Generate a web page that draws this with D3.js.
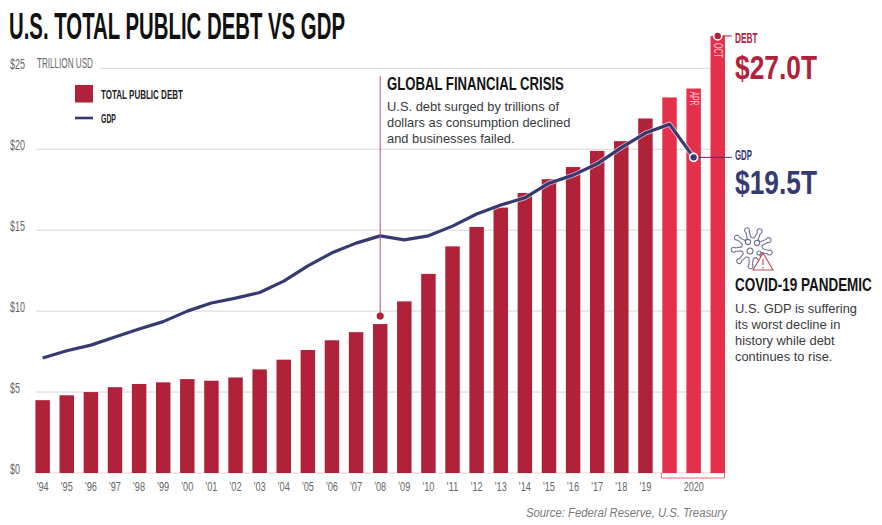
<!DOCTYPE html>
<html><head><meta charset="utf-8">
<script src="https://cdnjs.cloudflare.com/ajax/libs/d3/7.8.5/d3.min.js"></script>
<style>html,body{margin:0;padding:0;background:#fff}svg{display:block}</style>
</head><body><svg id="c" width="882" height="525"></svg>
<script>
const periods=["'94","'95","'96","'97","'98","'99","'00","'01","'02","'03","'04","'05","'06","'07","'08","'09","'10","'11","'12","'13","'14","'15","'16","'17","'18","'19","JAN","APR","OCT"];
const debtValues=[4.5,4.8,5.0,5.3,5.5,5.6,5.8,5.7,5.9,6.4,7.0,7.6,8.2,8.7,9.2,10.6,12.3,14.0,15.2,16.4,17.3,18.15,18.9,19.9,20.5,21.9,23.2,23.75,27.0];
const gdpValues=[7.1,7.55,7.9,8.4,8.9,9.35,10.0,10.5,10.8,11.15,11.85,12.8,13.6,14.2,14.65,14.4,14.65,15.25,16.0,16.55,17.0,17.9,18.4,19.1,20.1,21.0,21.55,19.5];
const yTicks=[0,5,10,15,20,25];
const recentPeriods=["JAN","APR","OCT"];
const RED="#b0213a",BRIGHT="#e5304b",NAVY="#353a72",HEAD="Liberation Sans",BODY="Liberation Sans";

const svg=d3.select("#c");
const x=d3.scaleBand().domain(periods).range([30.6,729.8]).paddingInner(0.4).paddingOuter(0.2);
const y=d3.scaleLinear().domain([0,25]).range([473,68.3]);
const cx=d=>x(d)+x.bandwidth()/2;

// squeeze a text horizontally to a wanted width (the reference uses a condensed face)
function squeeze(node,len){return len/node.getComputedTextLength();}
function cond(t,px,py,size,len,fill,weight,anchor){
  const s=svg.append("text").attr("font-family",HEAD).attr("font-size",size)
   .attr("font-weight",weight||"bold").attr("fill",fill).attr("text-anchor",anchor||"start").text(t);
  s.attr("transform",`translate(${px},${py}) scale(${squeeze(s.node(),len)},1)`);
  return s;
}
function body(lines,px,py,step){
  lines.forEach((l,i)=>svg.append("text").attr("x",px).attr("y",py+i*step).attr("font-family",BODY).attr("font-size",12.9).attr("fill","#3a3a3a").text(l));
}

// grid
svg.append("g").selectAll("line").data(yTicks).join("line")
 .attr("x1",d=>d===25?100:36).attr("x2",d=>d===25?712:726).attr("y1",d=>y(d)).attr("y2",d=>y(d))
 .attr("stroke",d=>d===0?"#e3d5d8":"#d6d6d6").attr("stroke-width",1);

// y axis
const ya=svg.append("g").attr("transform","translate(10,0)").call(d3.axisRight(y).tickValues(yTicks).tickSize(0).tickPadding(0).tickFormat(d=>"$"+d));
ya.select(".domain").remove();
ya.selectAll("text").attr("font-family",HEAD).attr("font-size",14).attr("fill","#666").attr("dy",null).attr("y",0)
 .attr("transform",function(d){return `scale(${squeeze(this,d<10?10:15)},1)`;});

// bars
svg.append("g").selectAll("rect").data(periods).join("rect")
 .attr("x",d=>x(d)).attr("width",x.bandwidth())
 .attr("y",(d,i)=>y(debtValues[i])).attr("height",(d,i)=>y(0)-y(debtValues[i]))
 .attr("fill",d=>recentPeriods.includes(d)?BRIGHT:RED);

// x axis
const xa=svg.append("g").attr("transform","translate(0,481)")
 .call(d3.axisBottom(x).tickValues(periods.slice(0,26)).tickSize(0).tickPadding(0));
xa.select(".domain").remove();
xa.selectAll("text").attr("font-family",HEAD).attr("font-size",12.5).attr("fill","#666").attr("dy",null).attr("y",10)
 .attr("transform",function(){return `scale(${squeeze(this,12)},1)`;});

// 2020 bracket
const bx0=x("JAN")-1,bx1=x("OCT")+x.bandwidth()-0.5;
svg.append("path").attr("d",`M${bx0},${y(0)}V${y(0)+5}H${bx1}V${y(0)}`).attr("fill","none").attr("stroke","#e8697c").attr("stroke-width",1);
cond("2020",cx("APR"),491,12.5,20,"#666","normal","middle");

// month labels in bars
[["APR",23.75],["OCT",27.0]].forEach(([p,v])=>{
  const top=y(v)+(p==="OCT"?7:3);
  const s=svg.append("text").attr("font-family",HEAD).attr("font-size",12).attr("fill","#f7c3cb").text(p);
  s.attr("transform",`translate(${cx(p)-4},${top}) rotate(90) scale(${squeeze(s.node(),p==="OCT"?15:14)},1)`);
});

// GDP line
const line=d3.line().x((d,i)=>cx(periods[i])).y(d=>y(d));
svg.append("path").datum(gdpValues).attr("d",line).attr("fill","none").attr("stroke","#fff").attr("stroke-width",5).attr("stroke-opacity",.6).attr("stroke-linejoin","round");
svg.append("path").datum(gdpValues).attr("d",line).attr("fill","none").attr("stroke",NAVY).attr("stroke-width",3.2).attr("stroke-linejoin","round");

// callouts
const gx=cx("APR"),gy=y(gdpValues[27]);
svg.append("line").attr("x1",gx).attr("x2",732).attr("y1",gy).attr("y2",gy).attr("stroke",NAVY).attr("stroke-width",1);
svg.append("circle").attr("cx",gx).attr("cy",gy).attr("r",4).attr("fill",NAVY).attr("stroke","#fff").attr("stroke-width",1.6);
const dx=cx("OCT"),dy=y(27.0);
svg.append("line").attr("x1",dx).attr("x2",732).attr("y1",dy).attr("y2",dy).attr("stroke",RED).attr("stroke-width",1);
svg.append("circle").attr("cx",dx).attr("cy",dy).attr("r",4).attr("fill",RED).attr("stroke","#fff").attr("stroke-width",1.6);

// crisis
const cxx=cx("'08");
svg.append("line").attr("x1",cxx).attr("x2",cxx).attr("y1",76).attr("y2",y(9.2)-8).attr("stroke","#b85266").attr("stroke-width",1);
svg.append("circle").attr("cx",cxx).attr("cy",y(9.2)-8).attr("r",3.6).attr("fill",RED);

// texts
cond("U.S. TOTAL PUBLIC DEBT VS GDP",9,39,37,336,"#111");
cond("TRILLION USD",37,68,14,56,"#666","normal");
cond("GLOBAL FINANCIAL CRISIS",387,90,18,177,"#141414");
body(["U.S. debt surged by trillions of","dollars as consumption declined","and businesses failed."],387,111,16);
cond("DEBT",735,43,15.5,22.5,RED);
cond("$27.0T",735,79,33.5,82,RED);
cond("GDP",735,159.5,15.5,17,NAVY);
cond("$19.5T",735,193.5,33.5,82,NAVY);
cond("COVID-19 PANDEMIC",735,291,18,137,"#141414");
body(["U.S. GDP is suffering","its worst decline in","history while debt","continues to rise."],735,313,16);
cond("Source: Federal Reserve, U.S. Treasury",526,517,12.4,201,"#7a7a7a","normal").attr("font-style","italic");

// legend
svg.append("rect").attr("x",75).attr("y",85).attr("width",18).attr("height",17.5).attr("fill",RED);
cond("TOTAL PUBLIC DEBT",101,98.5,13.5,82,"#222");
svg.append("line").attr("x1",75).attr("x2",93).attr("y1",118).attr("y2",118).attr("stroke",NAVY).attr("stroke-width",2.6);
cond("GDP",101,123,13.5,15,"#222");

// virus icon
const ic=svg.append("g").attr("transform","translate(752,248)").attr("fill","none").attr("stroke","#6f7199").attr("stroke-width",1.1);
d3.range(9).forEach(i=>{
  const a=i*40*Math.PI/180+0.25;
  const r0=10.5,r1=16.5;
  const p=(r,o)=>[(r*Math.cos(a+o)).toFixed(1),(r*Math.sin(a+o)).toFixed(1)];
  ic.append("path").attr("d",`M${p(r0,-0.2)}L${p(r1,-0.1)}A2.5,2.5 0 1 1 ${p(r1,0.1)}L${p(r0,0.2)}A5,5 0 0 0 ${p(r0,0.5)}`);
});
[[-4,-6,2.6],[5,-5,2.6],[-2,3,3],[7,5,2]].forEach(c=>ic.append("circle").attr("cx",c[0]).attr("cy",c[1]).attr("r",c[2]));
const tri=svg.append("g").attr("transform","translate(763,262)");
tri.append("path").attr("d","M0,-9L10,8H-10Z").attr("fill","#fff").attr("stroke","#c1455a").attr("stroke-width",1.1);
tri.append("path").attr("d","M0,-3V3M0,5V6.5").attr("stroke","#c1455a").attr("stroke-width",1.1);
</script></body></html>
